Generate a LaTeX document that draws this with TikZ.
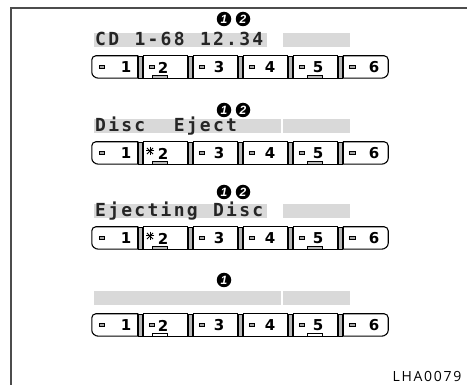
\documentclass[tikz,border=0pt]{standalone}
\usepackage{fontspec}
\setmainfont{Liberation Sans}
\newfontfamily\lcdfont[LetterSpace=12.6]{DejaVu Sans Mono}
\newfontfamily\keyfont{DejaVu Sans}
\newfontfamily\codefont[LetterSpace=12]{Open Sans}
\usetikzlibrary{positioning, calc}

\tikzset{
  frameline/.style={draw=black!70, line width=1.3pt},
  btnbox/.style={minimum height=22pt, inner sep=0pt},
  btnline/.style={line width=1.1pt},
  sepbar/.style={draw, fill=gray!55, line width=0.6pt, minimum width=3.5pt, minimum height=22pt, inner sep=0pt},
  digit/.style={font=\keyfont\bfseries\fontsize{15}{15}\selectfont, inner sep=0pt},
  dashmark/.style={draw, fill=gray!70, line width=0.7pt, minimum width=5.5pt, minimum height=3pt, inner sep=0pt},
  barmark/.style={draw, line width=0.6pt, minimum width=15pt, minimum height=3pt, inner sep=0pt},
  starline/.style={line width=1pt},
  lcdbg/.style={fill=gray!30},
  lcdtext/.style={font=\lcdfont\bfseries\fontsize{18}{18}\selectfont, text=black!85, anchor=base west, inner sep=0pt},
  numdot/.style={circle, fill=black, text=white, font=\bfseries\itshape\fontsize{12}{12}\selectfont, minimum size=14.5pt, inner sep=0pt},
}

\begin{document}
\begin{tikzpicture}[x=1pt, y=-1pt]
    \useasboundingbox (0,0) rectangle (467,385);

    % Frame
    \draw[frameline] (11,385) -- (11,8) -- (467,8);

    % Display rows with preset buttons
    \foreach \row/\ty/\cy in {1/56/19, 2/142/110, 3/227/192, 4/314/280} {
        \ifnum\row=4 \def\barcol{white}\else\def\barcol{gray!55}\fi
        \ifodd\row \def\lcdend{267}\else\def\lcdend{281}\fi
        % display strip
        \fill[lcdbg] (94,\ty-23) rectangle (\lcdend,\ty-9);
        \fill[lcdbg] (283,\ty-23) rectangle (350,\ty-9);
        % circled numbers
        \node[numdot] (n\row a) at (224,\cy) {1};
        \ifnum\row<4 \node[numdot] (n\row b) at (243,\cy) {2}; \fi
        % separators
        \foreach \s in {1,...,5}
            \node[sepbar] (r\row s\s) at (90.5+50*\s,\ty+11) {};
        % buttons
        \foreach \btn/\bx/\bw/\dx/\mx in {1/114.75/45.5/126/102, 2/165.5/44/163/152,
                3/215.5/44/219/202, 4/265.5/44/270/252, 5/315.5/44/318/302,
                6/365.75/44.5/374/352.5} {
            \node[btnbox, minimum width=\bw pt] (r\row b\btn) at (\bx,\ty+11) {};
            \ifnum\btn=1
                \draw[btnline] (r\row b\btn.north east) -- ([xshift=4pt]r\row b\btn.north west)
                    to[out=180,in=90] ([yshift=-4pt]r\row b\btn.north west)
                    -- ([yshift=6pt]r\row b\btn.south west)
                    to[out=-90,in=180] ([xshift=7pt]r\row b\btn.south west)
                    -- (r\row b\btn.south east) -- cycle;
            \else\ifnum\btn=6
                \draw[btnline] (r\row b\btn.north west) -- ([xshift=-4pt]r\row b\btn.north east)
                    to[out=0,in=90] ([yshift=-4pt]r\row b\btn.north east)
                    -- ([yshift=6pt]r\row b\btn.south east)
                    to[out=-90,in=0] ([xshift=-7pt]r\row b\btn.south east)
                    -- (r\row b\btn.south west) -- cycle;
            \else
                \draw[btnline] (r\row b\btn.north west) rectangle (r\row b\btn.south east);
            \fi\fi
            \node[digit] (r\row d\btn) at (\dx,\ty+11.5) {\btn};
            % eject mark on button 2 in rows 2 and 3
            \pgfmathtruncatemacro\isstar{(\btn==2)&&(\row>1)&&(\row<4)}
            \ifnum\isstar=1
                \coordinate (r\row x) at (150,\ty+9);
                \foreach \a in {0,45,90,135}
                    \draw[starline] ($(r\row x)+(\a:4.3pt)$) -- ($(r\row x)+(\a+180:4.3pt)$);
            \else
                \node[dashmark] (r\row m\btn) at (\mx,\ty+11) {};
            \fi
            \pgfmathtruncatemacro\hasbar{(\btn==2)||(\btn==5)}
            \ifnum\hasbar=1
                \path (r\row d\btn |- r\row b\btn.south) ++(-3,0)
                    node[barmark, fill=\barcol, anchor=south] (r\row u\btn) {};
            \fi
        }
    }

    % Display texts
    \node[lcdtext] (t1a) at (95,46) {CD};
    \node[lcdtext] (t1b) at (134.3,46) {1-68};
    \node[lcdtext] (t1c) at (199.8,46) {12.34};
    \node[lcdtext] (t2a) at (95,132) {Disc};
    \node[lcdtext] (t2b) at (173.6,132) {Eject};
    \node[lcdtext] (t3a) at (95,217) {Ejecting};
    \node[lcdtext] (t3b) at (212.9,217) {Disc};

    % Figure code
    \node[font=\codefont\fontsize{14}{14}\selectfont, inner sep=0pt] (code) at (427,376) {LHA0079};
\end{tikzpicture}
\end{document}
